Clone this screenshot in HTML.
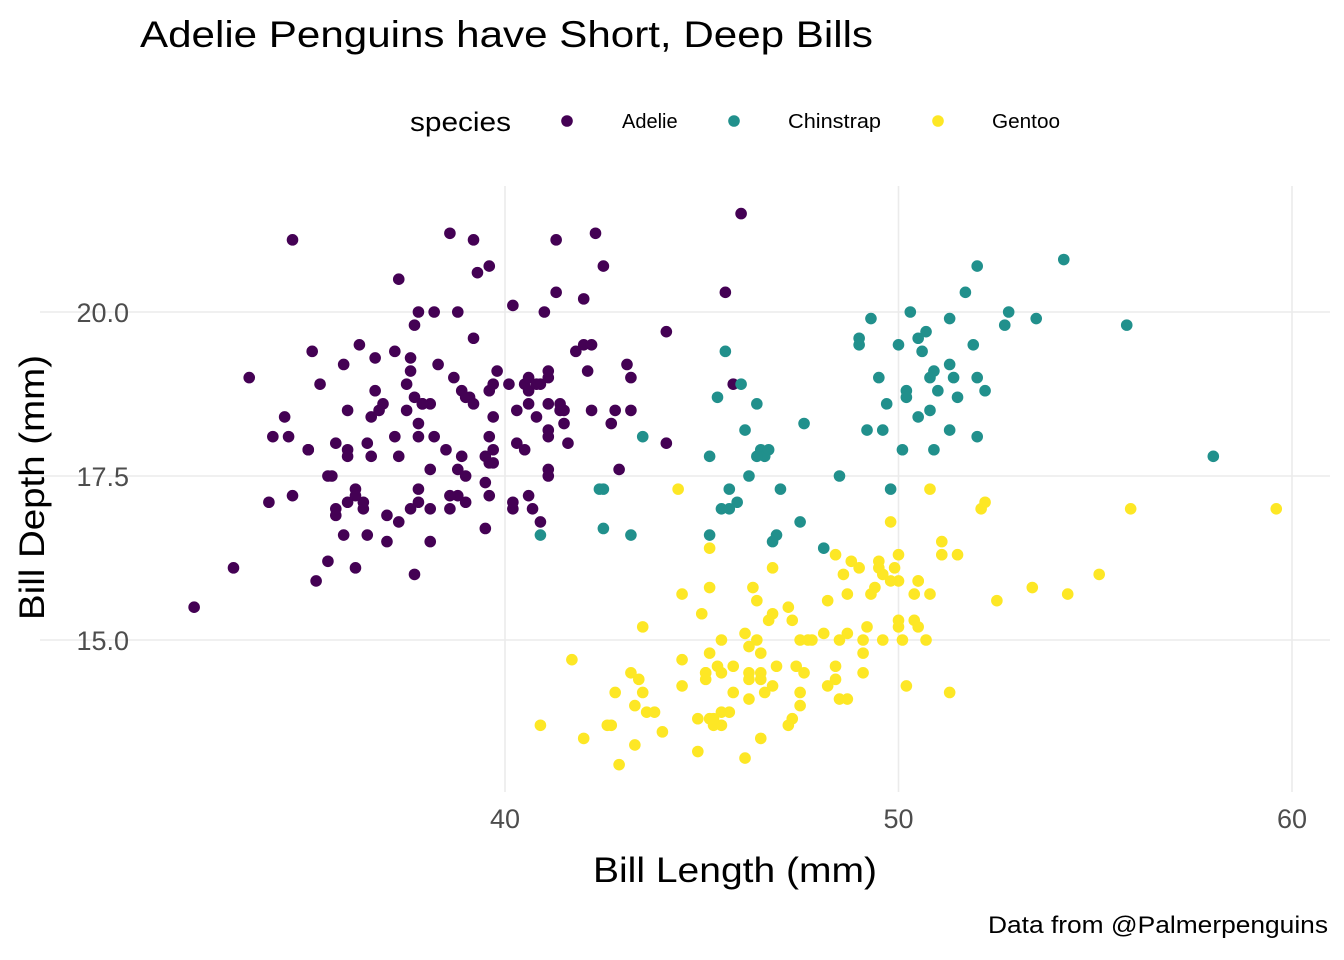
<!DOCTYPE html>
<html><head><meta charset="utf-8">
<style>
body{margin:0;background:#fff;}
svg{display:block;font-family:"Liberation Sans",sans-serif;}
</style></head>
<body>
<svg id="chart" width="1344" height="960">
<rect width="1344" height="960" fill="#fff"/>
<text x="140" y="47" font-size="37" textLength="733" lengthAdjust="spacingAndGlyphs" fill="#000">Adelie Penguins have Short, Deep Bills</text>
<g>
<text x="410" y="131" font-size="27" textLength="101" lengthAdjust="spacingAndGlyphs">species</text>
<circle cx="567" cy="121" r="5.8" fill="#440154"/>
<text x="622" y="128" font-size="20">Adelie</text>
<circle cx="734" cy="121" r="5.8" fill="#21908C"/>
<text x="788" y="128" font-size="20" textLength="93" lengthAdjust="spacingAndGlyphs">Chinstrap</text>
<circle cx="938" cy="121" r="5.8" fill="#FDE725"/>
<text x="992" y="128" font-size="20" textLength="68" lengthAdjust="spacingAndGlyphs">Gentoo</text>
</g>
<g id="grid"></g>
<g id="points"></g>
<g id="axes"></g>
<text x="593" y="882" font-size="35" textLength="284" lengthAdjust="spacingAndGlyphs">Bill Length (mm)</text>
<text transform="translate(44,620) rotate(-90)" font-size="35" textLength="265" lengthAdjust="spacingAndGlyphs">Bill Depth (mm)</text>
<text x="988" y="933" font-size="24" textLength="340" lengthAdjust="spacingAndGlyphs">Data from @Palmerpenguins</text>
</svg>
<script>
const xTicks=[40,50,60];
const yTicks=[15,17.5,20];
const yTickLabels=["15.0","17.5","20.0"];
const adelie=[[39.1,18.7],[39.5,17.4],[40.3,18],[36.7,19.3],[39.3,20.6],[38.9,17.8],[39.2,19.6],[34.1,18.1],[42,20.2],[37.8,17.1],[37.8,17.3],[41.1,17.6],[38.6,21.2],[34.6,21.1],[36.6,17.8],[38.7,19],[42.5,20.7],[34.4,18.4],[46,21.5],[37.8,18.3],[37.7,18.7],[35.9,19.2],[38.2,18.1],[38.8,17.2],[35.3,18.9],[40.6,18.6],[40.5,17.9],[37.9,18.6],[40.5,18.9],[39.5,16.7],[37.2,18.1],[39.5,17.8],[40.9,18.9],[36.4,17],[39.2,21.1],[38.8,20],[42.2,18.5],[37.6,19.3],[39.8,19.1],[36.5,18],[40.8,18.4],[36,18.5],[44.1,19.7],[37,16.9],[39.6,18.8],[41.1,19],[37.5,18.9],[36,17.9],[42.3,21.2],[39.6,17.7],[40.1,18.9],[35,17.9],[42,19.5],[34.5,18.1],[41.4,18.6],[39,17.5],[40.6,18.8],[36.5,16.6],[37.6,19.1],[35.7,16.9],[41.3,21.1],[37.6,17],[41.1,18.2],[36.4,17.1],[41.6,18],[35.5,16.2],[41.1,19.1],[35.9,16.6],[41.8,19.4],[33.5,19],[39.7,18.4],[39.6,17.2],[45.8,18.9],[35.5,17.5],[42.8,18.5],[40.9,16.8],[37.2,19.4],[36.2,16.1],[42.1,19.1],[34.6,17.2],[42.9,17.6],[36.7,18.8],[35.1,19.4],[37.3,17.8],[41.3,20.3],[36.3,19.5],[36.9,18.6],[38.3,19.2],[38.9,18.8],[35.7,18],[41.1,18.1],[34,17.1],[39.6,18.1],[36.2,17.3],[40.8,18.9],[38.1,18.6],[40.3,18.5],[33.1,16.1],[43.2,18.5],[35,17.9],[41,20],[37.7,16],[37.8,20],[37.9,18.6],[39.7,18.9],[38.6,17.2],[38.2,20],[38.1,17],[43.2,19],[38.1,16.5],[45.6,20.3],[39.7,17.7],[42.2,19.5],[39.6,20.7],[42.7,18.3],[38.6,17],[37.3,20.5],[35.7,17],[41.1,18.6],[36.2,17.2],[37.7,19.8],[40.2,17],[41.4,18.5],[35.2,15.9],[40.6,19],[38.8,17.6],[41.5,18.3],[39,17.1],[44.1,18],[38.5,17.9],[43.1,19.2],[36.8,18.5],[37.5,18.5],[38.1,17.6],[41.1,17.5],[35.6,17.5],[40.2,20.1],[37,16.5],[39.7,17.9],[40.2,17.1],[40.6,17.2],[32.1,15.5],[40.7,17],[37.3,16.8],[39,18.7],[39.2,18.6],[36.6,18.4],[36,17.8],[37.8,18.1],[36,17.1],[41.5,18.5]];
const chinstrap=[[46.5,17.9],[50,19.5],[51.3,19.2],[45.4,18.7],[52.7,19.8],[45.2,17.8],[46.1,18.2],[51.3,18.2],[46,18.9],[51.3,19.9],[46.6,17.8],[51.7,20.3],[47,17.3],[52,18.1],[45.9,17.1],[50.5,19.6],[50.3,20],[58,17.8],[46.4,18.6],[49.2,18.2],[42.4,17.3],[48.5,17.5],[43.2,16.6],[50.6,19.4],[46.7,17.9],[52,19],[50.5,18.4],[49.5,19],[46.4,17.8],[52.8,20],[40.9,16.6],[54.2,20.8],[42.5,16.7],[51,18.8],[49.7,18.6],[47.5,16.8],[47.6,18.3],[52,20.7],[46.9,16.6],[53.5,19.9],[49,19.5],[46.2,17.5],[50.9,19.1],[45.5,17],[50.9,17.9],[50.8,18.5],[50.1,17.9],[49,19.6],[51.5,18.7],[49.8,17.3],[48.1,16.4],[51.4,19],[45.7,17.3],[50.7,19.7],[42.5,17.3],[52.2,18.8],[45.2,16.6],[49.3,19.9],[50.2,18.8],[45.6,19.4],[51.9,19.5],[46.8,16.5],[45.7,17],[55.8,19.8],[43.5,18.1],[49.6,18.2],[50.8,19],[50.2,18.7]];
const gentoo=[[46.1,13.2],[50,16.3],[48.7,14.1],[50,15.2],[47.6,14.5],[46.5,13.5],[45.4,14.6],[46.7,15.3],[43.3,13.4],[46.8,15.4],[40.9,13.7],[49,16.1],[45.5,13.7],[48.4,14.6],[45.8,14.6],[49.3,15.7],[42,13.5],[49.2,15.2],[46.2,14.5],[48.7,15.1],[50.2,14.3],[45.1,14.5],[46.5,14.5],[46.3,15.8],[42.9,13.1],[46.1,15.1],[44.5,14.3],[47.8,15],[48.2,14.3],[50,15.3],[47.3,15.3],[42.8,14.2],[45.1,14.5],[59.6,17],[49.1,14.8],[48.4,16.3],[42.6,13.7],[44.4,17.3],[44,13.6],[48.7,15.7],[42.7,13.7],[49.6,16],[45.3,13.7],[49.6,15],[50.5,15.9],[43.6,13.9],[45.5,13.9],[50.5,15.9],[44.9,13.3],[45.2,15.8],[46.6,14.2],[48.5,14.1],[45.1,14.4],[50.1,15],[46.5,14.4],[45,15.4],[43.8,13.9],[45.5,15],[43.2,14.5],[50.4,15.3],[45.3,13.8],[46.2,14.9],[45.7,13.9],[54.3,15.7],[45.8,14.2],[49.8,16.8],[46.2,14.4],[49.5,16.2],[43.5,14.2],[50.7,15],[47.7,15],[46.4,15.6],[48.2,15.6],[46.5,14.8],[46.4,15],[48.6,16],[47.5,14.2],[51.1,16.3],[45.2,13.8],[45.2,16.4],[49.1,14.5],[52.5,15.6],[47.4,14.6],[50,15.9],[44.9,13.8],[50.8,17.3],[43.4,14.4],[51.3,14.2],[47.5,14],[52.1,17],[47.5,15],[52.2,17.1],[45.5,14.5],[49.5,16.1],[44.5,14.7],[50.8,15.7],[49.4,15.8],[46.9,14.6],[48.4,14.4],[51.1,16.5],[48.5,15],[55.9,17],[47.2,15.5],[49.1,15],[47.3,13.8],[46.8,16.1],[41.7,14.7],[53.4,15.8],[43.3,14],[48.1,15.1],[50.5,15.2],[49.8,15.9],[43.5,15.2],[51.5,16.3],[46.2,14.1],[55.1,16],[44.5,15.7],[48.8,16.2],[47.2,13.7],[46.8,14.3],[50.4,15.7],[45.2,14.8],[49.9,16.1]];

const NS="http://www.w3.org/2000/svg";
const X=v=>505+(v-40)*39.35;
const Y=v=>640-(v-15)*65.6;
const grid=document.getElementById('grid'),pts=document.getElementById('points'),axes=document.getElementById('axes');
function mk(tag,attrs,parent){const e=document.createElementNS(NS,tag);for(const k in attrs)e.setAttribute(k,attrs[k]);parent.appendChild(e);return e;}
xTicks.forEach(t=>{
  const l=mk('line',{x1:X(t),x2:X(t),y1:186,y2:792,stroke:'#ebebeb','stroke-width':1.6},grid);
  
  
  const tx=mk('text',{x:X(t),y:828,'font-size':27,fill:'#4d4d4d','text-anchor':'middle'},axes);
  tx.textContent=t;
  
  
});
yTicks.forEach((t,i)=>{
  const l=mk('line',{x1:40,x2:1330,y1:Y(t),y2:Y(t),stroke:'#ebebeb','stroke-width':1.6},grid);
  
  
  const tx=mk('text',{x:129,y:Y(t)+10,'font-size':27,fill:'#4d4d4d','text-anchor':'end'},axes);
  tx.textContent=yTickLabels[i];
  
  
});
[[adelie,'#440154','adelie'],[chinstrap,'#21908C','chinstrap'],[gentoo,'#FDE725','gentoo']].forEach(([d,c,n])=>{
  d.forEach(p=>{
    const e=mk('circle',{cx:X(p[0]),cy:Y(p[1]),r:5.8,fill:c},pts);
    
    
  });
});
</script>
</body></html>
